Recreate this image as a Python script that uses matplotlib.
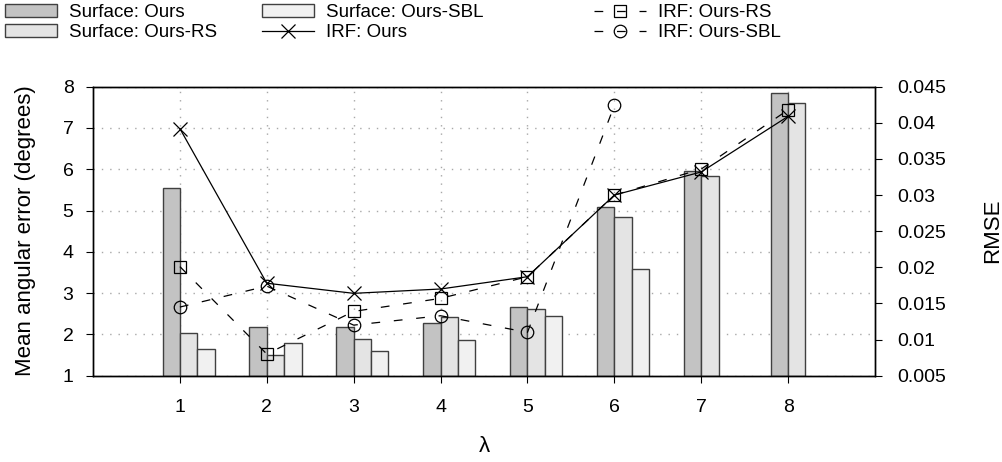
import numpy as np
import matplotlib.pyplot as plt

plt.rcParams['font.family'] = ['Liberation Sans', 'DejaVu Sans']
plt.rcParams['font.size'] = 13.5

lam = [1, 2, 3, 4, 5, 6, 7, 8]

# bars (left axis, degrees)
surf_ours = [5.55, 2.19, 2.19, 2.28, 2.67, 5.08, 5.96, 7.84]
surf_rs = [2.04, 1.49, 1.88, 2.43, 2.61, 4.85, 5.84, 7.61]
surf_sbl = [1.64, 1.78, 1.61, 1.86, 2.45, 3.59]   # no value for 7, 8

# lines (right axis, RMSE)
irf_ours = [0.0392, 0.0178, 0.0164, 0.0170, 0.0187, 0.0300, 0.0332, 0.0409]
irf_rs = [0.0201, 0.0080, 0.0139, 0.0157, 0.0187, 0.0300, 0.0336, 0.0418]
irf_sbl = [0.0145, 0.0174, 0.0120, 0.0133, 0.0110, 0.0424]

rmse_ticks = [0.005, 0.01, 0.015, 0.02, 0.025, 0.03, 0.035, 0.04, 0.045]

fig = plt.figure(figsize=(10.03, 4.62), dpi=100)
ax = fig.add_axes([93/1003, 1-375.7/462, (875-93)/1003, (375.7-86.7)/462])
ax2 = ax.twinx()

w = 0.2
edge = '#404040'
x = np.array(lam, dtype=float)
b1 = ax.bar(x - w, [v - 1 for v in surf_ours], w, bottom=1, align='edge',
            color='#c3c3c3', edgecolor=edge, linewidth=1, label='Surface: Ours')
b2 = ax.bar(x, [v - 1 for v in surf_rs], w, bottom=1, align='edge',
            color='#e4e4e4', edgecolor=edge, linewidth=1, label='Surface: Ours-RS')
b3 = ax.bar(x[:len(surf_sbl)] + w, [v - 1 for v in surf_sbl], w, bottom=1, align='edge',
            color='#f1f1f1', edgecolor=edge, linewidth=1, label='Surface: Ours-SBL')

ax.set_xlim(0, 9)
ax.set_ylim(1, 8)
ax.set_xticks(lam)
ax.set_yticks(range(1, 9))
ax.set_axisbelow(True)
ax.grid(True, color='#a8a8a8', linestyle=(0, (1, 5)), linewidth=1)

l1, = ax2.plot(lam, irf_ours, color='black', lw=0.9, marker='x', ms=10, mew=0.9,
               label='IRF: Ours')
l2, = ax2.plot(lam, irf_rs, color='black', lw=0.9, ls=(0, (7, 11)), marker='s', ms=9,
               mfc='none', mew=0.9, label='IRF: Ours-RS')
l3, = ax2.plot(lam[:len(irf_sbl)], irf_sbl, color='black', lw=0.9, ls=(0, (7, 11)),
               marker='o', ms=9, mfc='none', mew=0.9, label='IRF: Ours-SBL')
ax2.set_ylim(0.005, 0.045)
ax2.set_yticks(rmse_ticks)
ax2.set_yticklabels([('%.3f' % t).rstrip('0') for t in rmse_ticks])

for a in (ax, ax2):
    for s in a.spines.values():
        s.set_linewidth(1)
        s.set_color('black')
ax.tick_params(axis='x', direction='out', length=5, width=0.8, pad=12, labelsize=14)
ax.tick_params(axis='y', direction='out', length=5, width=0.8, pad=9, labelsize=14)
ax2.tick_params(axis='y', direction='out', length=5, width=0.8, pad=11, labelsize=14)

fig.text(26/1003, 1 - 231/462, 'Mean angular error (degrees)', rotation=90,
         ha='center', va='center', fontsize=16)
fig.text(993/1003, 1 - 231/462, 'RMSE', rotation=90, ha='center', va='center',
         fontsize=16)
fig.text(484/1003, 1 - 446/462, 'λ', ha='center', va='center', fontsize=16)

leg_kw = dict(loc='upper left', frameon=False, borderpad=0, borderaxespad=0,
              handlelength=2.8, handletextpad=0.6, labelspacing=0.15)
fig.legend(handles=[b1, b2], bbox_to_anchor=(5/1003, 1 - 4/462), **leg_kw)
fig.legend(handles=[b3, l1], bbox_to_anchor=(262/1003, 1 - 4/462), **leg_kw)
fig.legend(handles=[l2, l3], bbox_to_anchor=(594/1003, 1 - 4/462), **leg_kw)

fig.savefig('out.png', dpi=100)
